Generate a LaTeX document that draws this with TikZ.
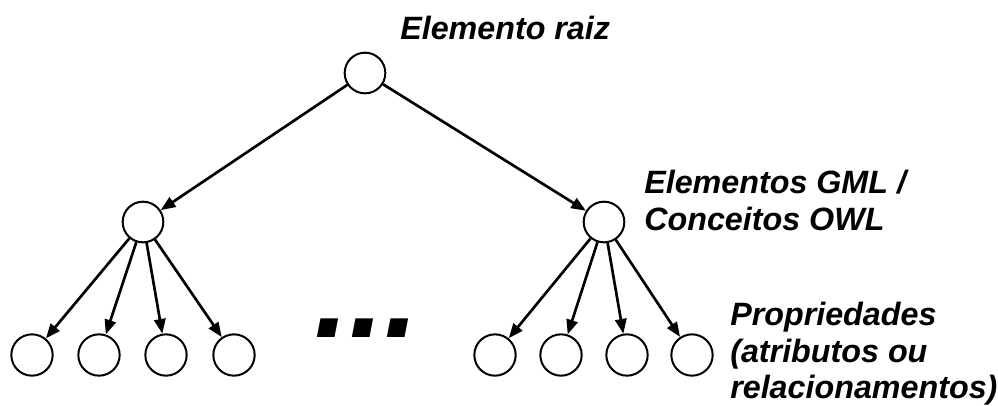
\documentclass[tikz,border=0pt]{standalone}
\usepackage{fontspec}
\setmainfont{Liberation Sans}
\usetikzlibrary{arrows.meta}
\begin{document}
\begin{tikzpicture}[x=0.75pt,y=-0.75pt,
  elem/.style={circle,draw,line width=1.5pt,minimum size=30.5pt,inner sep=0pt},
  leaf/.style={circle,draw,line width=1.5pt,minimum size=31pt,inner sep=0pt},
  link/.style={line width=2pt,-{Triangle[length=11pt,width=8.5pt]}},
  lbl/.style={font=\fontsize{24.2}{27.5}\selectfont\bfseries\itshape,inner sep=0pt,align=left}]
\useasboundingbox (0,0) rectangle (998,405);
\node[elem] (root) at (365,73) {};
\node[elem] (ml) at (143,222) {};
\node[elem] (mr) at (604,222) {};
\node[leaf] (l1) at (32,355) {};
\node[leaf] (l2) at (99,355) {};
\node[leaf] (l3) at (166,355) {};
\node[leaf] (l4) at (234,355) {};
\node[leaf] (r1) at (495,355) {};
\node[leaf] (r2) at (561,355) {};
\node[leaf] (r3) at (627,355) {};
\node[leaf] (r4) at (692,355) {};
\draw[link] (root) -- (ml);
\draw[link] (root) -- (mr);
\foreach \t in {l1,l2,l3,l4} \draw[link] (ml) -- (\t);
\foreach \t in {r1,r2,r3,r4} \draw[link] (mr) -- (\t);
\node[lbl,anchor=base west] (t1) at (400,39) {Elemento raiz};
\node[lbl,anchor=north west] (t2) at (644,170) {Elementos GML /\\Conceitos OWL};
\node[lbl,anchor=north west] (t3) at (730,302) {Propriedades\\(atributos ou\\relacionamentos)};
\node[font=\fontsize{94}{94}\selectfont\bfseries\itshape,inner sep=0pt,anchor=base] (dots) at (367,337) {...};
\end{tikzpicture}
\end{document}
